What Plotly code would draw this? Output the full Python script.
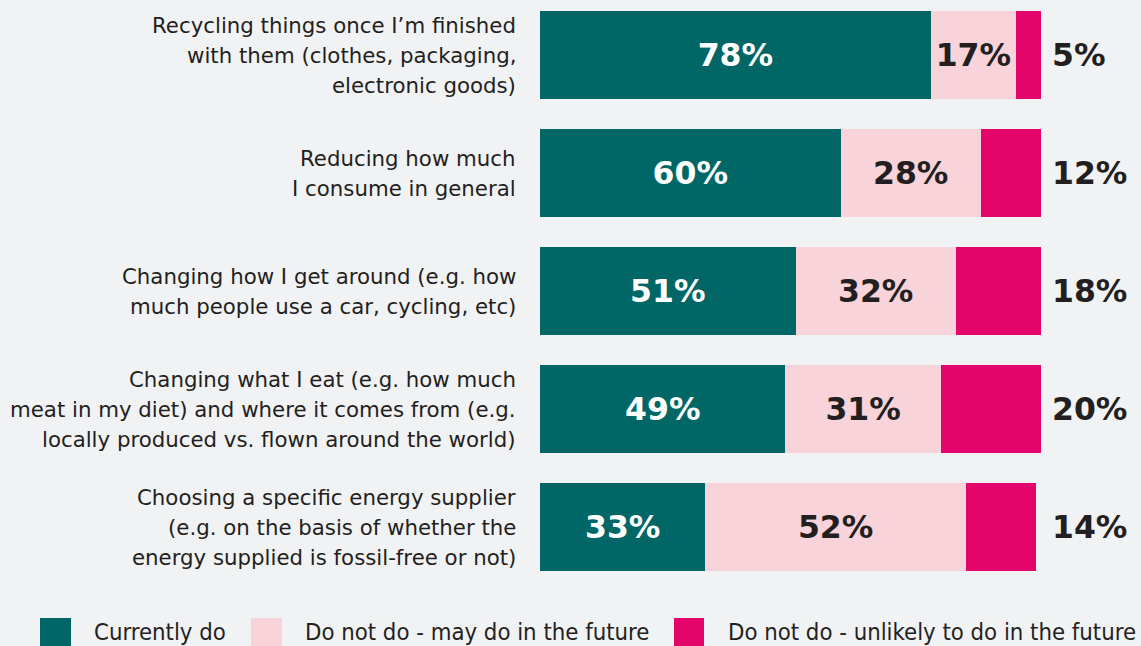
import plotly.graph_objects as go

# Survey results: share of respondents per behaviour
categories = [
    "Recycling things once I’m finished<br>with them (clothes, packaging,<br>electronic goods)",
    "Reducing how much<br>I consume in general",
    "Changing how I get around (e.g. how<br>much people use a car, cycling, etc)",
    "Changing what I eat (e.g. how much<br>meat in my diet) and where it comes from (e.g.<br>locally produced vs. flown around the world)",
    "Choosing a specific energy supplier<br>(e.g. on the basis of whether the<br>energy supplied is fossil-free or not)",
]
currently_do = [78, 60, 51, 49, 33]
may_do_future = [17, 28, 32, 31, 52]
unlikely_future = [5, 12, 18, 20, 14]

series_names = [
    "Currently do",
    "Do not do - may do in the future",
    "Do not do - unlikely to do in the future",
]

TEAL = "#006666"
PINK = "#f8d3da"
MAGENTA = "#e4056b"
BG = "#f1f2f4"
INK = "#231f20"

W, H = 1141, 646
M_L, M_R, M_T, M_B = 540, 100, 0, 56
PLOT_W = W - M_L - M_R
PLOT_H = H - M_T - M_B

VALUE_FONT = dict(family="DejaVu Sans, sans-serif", size=31.5, weight="bold")
LABEL_FONT = dict(family="DejaVu Sans, sans-serif", size=21.3, color=INK)
LINE_H = 30

idx = list(range(len(categories)))


def px_x(p):
    return (p - M_L) / PLOT_W


def px_y(p):
    return (H - M_B - p) / PLOT_H


fig = go.Figure()
fig.add_trace(go.Bar(
    y=idx, x=currently_do, orientation="h", name=series_names[0],
    marker=dict(color=TEAL, line=dict(width=0)),
    text=[f"{v}%" for v in currently_do], textposition="inside",
    insidetextanchor="middle", constraintext="none",
    textfont=dict(color="white", **VALUE_FONT),
))
fig.add_trace(go.Bar(
    y=idx, x=may_do_future, orientation="h", name=series_names[1],
    marker=dict(color=PINK, line=dict(width=0)),
    text=[f"{v}%" for v in may_do_future], textposition="inside",
    insidetextanchor="middle", constraintext="none",
    textfont=dict(color=INK, **VALUE_FONT),
))
fig.add_trace(go.Bar(
    y=idx, x=unlikely_future, orientation="h", name=series_names[2],
    marker=dict(color=MAGENTA, line=dict(width=0)),
    hoverinfo="x",
))

annotations = []
# Third-segment values, set in a column just right of the bars
for i, v in enumerate(unlikely_future):
    annotations.append(dict(
        x=px_x(1050), y=i, xref="paper", yref="y", text=f"{v}%", showarrow=False,
        xanchor="left", yanchor="middle", font=dict(color=INK, **VALUE_FONT),
    ))
# Category labels, one annotation per line, right-aligned against the bars
for i, c in enumerate(categories):
    lines = c.split("<br>")
    n = len(lines)
    for k, line in enumerate(lines):
        annotations.append(dict(
            x=0, y=i, xref="paper", yref="y", text=line, showarrow=False,
            xanchor="right", yanchor="middle", align="right", xshift=-22,
            yshift=((n - 1) / 2 - k) * LINE_H,
            font=LABEL_FONT,
        ))

# Legend row along the bottom edge
shapes = []
legend_items = [(40, 71, 92, TEAL), (251, 282, 303, PINK), (674, 704, 726, MAGENTA)]
for (x0, x1, tx, col), name in zip(legend_items, series_names):
    shapes.append(dict(type="rect", xref="paper", yref="paper",
                       x0=px_x(x0), x1=px_x(x1), y0=px_y(618), y1=px_y(652),
                       fillcolor=col, line=dict(width=0)))
    annotations.append(dict(
        x=px_x(tx), y=px_y(632), xref="paper", yref="paper", text=name,
        showarrow=False, xanchor="left", yanchor="middle",
        font=dict(family="Liberation Sans Narrow, DejaVu Sans Condensed, sans-serif",
                  size=23.7, color=INK),
    ))

slot = PLOT_H / len(categories)
top_val = -55 / slot

fig.update_layout(
    barmode="stack",
    bargap=0.254,
    width=W, height=H,
    margin=dict(l=M_L, r=M_R, t=M_T, b=M_B, pad=0),
    paper_bgcolor=BG, plot_bgcolor=BG,
    xaxis=dict(range=[0, 100], visible=False, fixedrange=True),
    yaxis=dict(range=[top_val + len(categories), top_val], visible=False, fixedrange=True),
    annotations=annotations,
    shapes=shapes,
    showlegend=False,
)

fig.write_html("out.html", config={"displayModeBar": False})
